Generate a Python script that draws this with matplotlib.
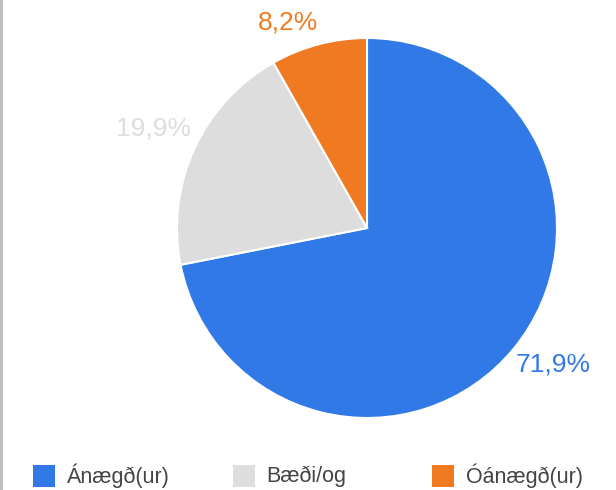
import matplotlib.pyplot as plt
from matplotlib.patches import Rectangle
from matplotlib.lines import Line2D
import numpy as np

categories = ['Ánægð(ur)', 'Bæði/og', 'Óánægð(ur)']
shares = [71.9, 19.9, 8.2]
labels = ['71,9%', '19,9%', '8,2%']
colors = ['#3079e6', '#dddddd', '#f07a22']
label_colors = ['#3079e6', '#dddddd', '#f07a22']
# label anchor points in pie units (radius = 1)
label_pos = [(0.979, -0.716), (-1.126, 0.526), (-0.416, 1.079)]

plt.rcParams['font.family'] = ['Liberation Sans', 'DejaVu Sans']

W, H = 616, 490
fig = plt.figure(figsize=(W / 100, H / 100), dpi=100)

cx, cy, r = 367, 228, 190
ax = fig.add_axes([(cx - r) / W, (H - cy - r) / H, 2 * r / W, 2 * r / H])
ax.pie(shares, colors=colors, startangle=90, counterclock=False, radius=1,
       wedgeprops=dict(edgecolor='white', linewidth=1.5))
ax.set_xlim(-1, 1)
ax.set_ylim(-1, 1)
ax.set_aspect('equal')
ax.axis('off')

for txt, (lx, ly), c in zip(labels, label_pos, label_colors):
    ax.text(lx, ly, txt, color=c, fontsize=19, ha='center', va='center',
            clip_on=False)

# legend row along the bottom
for i, (name, c) in enumerate(zip(categories, colors)):
    x0 = 33 + i * 199.5
    fig.patches.append(Rectangle((x0 / W, (H - 487) / H), 22 / W, 22 / H,
                                 transform=fig.transFigure, facecolor=c,
                                 edgecolor='none'))
    fig.text((x0 + 34) / W, (H - 476) / H, name, fontsize=15.5,
             color='#444444', ha='left', va='center')

# thin frame line on the left edge
fig.add_artist(Line2D([0.5 / W, 0.5 / W], [0, 1], color='#bbbbbb',
                      linewidth=2, transform=fig.transFigure))

fig.savefig('out.png', dpi=100)
